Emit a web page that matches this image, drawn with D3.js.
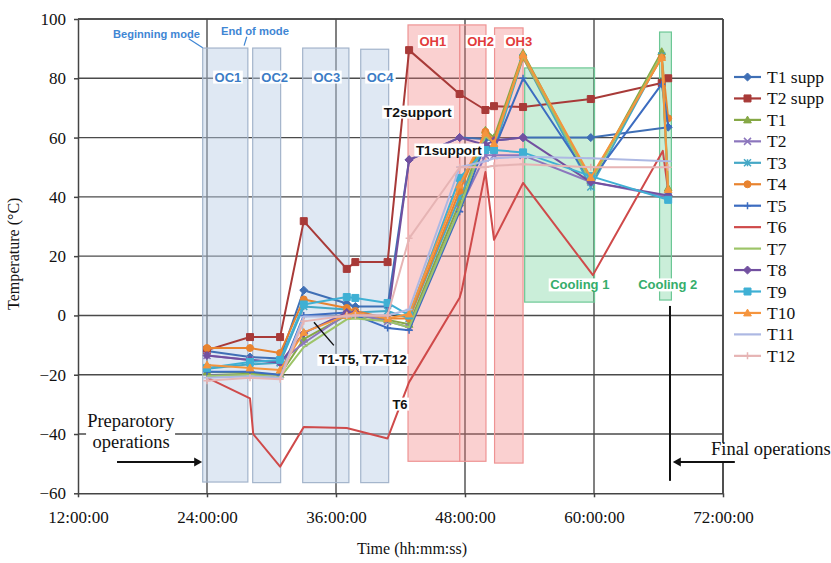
<!DOCTYPE html>
<html><head><meta charset="utf-8">
<script src="https://cdn.jsdelivr.net/npm/d3@7"></script>
<style>body{margin:0;background:#fff}svg{display:block}</style>
</head><body><svg id="c" width="831" height="563"></svg>
<script>
// ---------------- DATA ----------------
const times   = [24, 28, 30.8, 33, 37, 37.8, 40.8, 42.8, 47.5, 49.9, 50.7, 53.4, 59.7, 66.3, 66.9];
const timesT6 = [24, 28, 28.3, 30.8, 33, 37, 40.8, 42.8, 47.5, 47.7, 49.9, 50.7, 53.4, 59.9, 66.4, 66.9];

const t1supp = [-12, -14, -14.5, 8.5, 4, 3, 3, 52.5, 60, 59.5, 59, 60, 60, null, 63.5];
const t2supp = [-11.7, -7.3, -7.3, 31.8, 15.7, 18, 18, 89.5, 74.7, 69.3, 70.6, 70.3, 73, 78.4, 80];
const t1  = [-19, -19.5, -20, -8, 0, 0, -1.5, -3, 38, 62.5, 60, 88.5, 45.5, 89, 43];
const t2  = [-13.5, -15, -15.7, -9.3, 0.5, 0.5, -2, -4, 36, 54, 54, 54, 45, null, 40];
const t3  = [-18, -16.5, -16, 3, 2, 1, 1.5, -1, 40, 57, 56, 87, 43.3, 87.5, 40.5];
const t4  = [-11, -11, -12.7, 5.4, 2.5, 1.5, -1, -1, 42, 62, 59, 87, 46, 87, 66.5];
const t5  = [-19, -19, -20, 0, 1, 0, -4.2, -5, 35, 58, 56, 80, 45.5, 78, 64];
const t6  = [-21, -28, -40, -51, -37.6, -38, -41.5, -22.5, 6, 8.5, 48.4, 25.5, 44.7, 13.6, 55.5, 42];
const t7  = [-20.5, -20, -21, -10.7, -1.3, -1, -2, -4, 36, 60.5, 58, 87.5, 45, 88, 41];
const t8  = [-13.5, -15, -16, -6, 1, 1, -1, 52.5, 60, 57.5, 59, 60, 45, null, 40.5];
const t9  = [-17.7, -15.7, -15, 3.7, 6.2, 5.9, 4.2, 0, 46.4, 55.8, 55.8, 55, 47, null, 39];
const t10 = [-16.7, -17.7, -18.4, -5.7, 0, 1, -1, 0.5, 44, 61.5, 58, 88, 46.5, 87, 42.5];
const t11 = [-21, -20.5, -21, -0.4, -0.4, 0, 0, 2, 50, 52, 53, 53.5, 53, null, 52];
const t12 = [-22, -21, -21.5, -2, 0, 0, 0, 26, 50, 50, 50.5, 51, 50, null, 50];

const seriesNames = ["T1 supp","T2 supp","T1","T2","T3","T4","T5","T6","T7","T8","T9","T10","T11","T12"];
const seriesValues = [t1supp, t2supp, t1, t2, t3, t4, t5, t6, t7, t8, t9, t10, t11, t12];
const seriesTimes  = seriesNames.map(n => n === "T6" ? timesT6 : times);

const yTicks = [-60, -40, -20, 0, 20, 40, 60, 80, 100];
const xTicks = [12, 24, 36, 48, 60, 72];

// shaded phases [label, start h, end h, top °C, bottom °C]
const ocPhases = [["OC1", 23.6, 27.8, 90.2, -56.2], ["OC2", 28.25, 30.85, 90.2, -56.4], ["OC3", 32.9, 37.2, 90.2, -56.4], ["OC4", 38.3, 40.9, 89.8, -56.4]];
const ohPhases = [["OH1", 42.7, 47.5, 98, -49.2], ["OH2", 47.5, 49.95, 98, -49.2], ["OH3", 50.75, 53.4, 97, -49.8]];
const coolPhases = [["Cooling 1", 53.55, 60.05, 83.5, 4.5], ["Cooling 2", 66.1, 67.2, 95.6, 5.2]];

// ---------------- STYLE ----------------
const style = {
  "T1 supp": {c:"#3f6fb5", m:"diamond"},
  "T2 supp": {c:"#a83a38", m:"square"},
  "T1":  {c:"#86a846", m:"triangle"},
  "T2":  {c:"#8c76bd", m:"x"},
  "T3":  {c:"#45a8c6", m:"asterisk"},
  "T4":  {c:"#e8832f", m:"circle"},
  "T5":  {c:"#3c6cc0", m:"plus"},
  "T6":  {c:"#cf4a4a", m:"none"},
  "T7":  {c:"#9dc468", m:"none"},
  "T8":  {c:"#7250a0", m:"diamond"},
  "T9":  {c:"#3fb0d4", m:"square"},
  "T10": {c:"#f5953e", m:"triangle"},
  "T11": {c:"#adb8e3", m:"dash"},
  "T12": {c:"#e6b4b4", m:"plus"}
};

const svg = d3.select("#c");
const M = {l:78, t:19, r:723, b:493.3};
const x = d3.scaleLinear().domain([12,72]).range([M.l, M.r]);
const y = d3.scaleLinear().domain([-60,100]).range([M.b, M.t]);
const serif = "'Liberation Serif','Times New Roman',serif";
const sans = "'Liberation Sans',Arial,sans-serif";

// grid
const grid = svg.append("g");
grid.selectAll("line.h").data(yTicks.filter(d => d > -60)).join("line")
  .attr("x1", M.l).attr("x2", M.r).attr("y1", d => y(d)).attr("y2", d => y(d))
  .attr("stroke", "#4a4a4a").attr("stroke-width", 1.4);
grid.selectAll("line.v").data(xTicks.filter(d => d > 12)).join("line")
  .attr("y1", M.t).attr("y2", M.b).attr("x1", d => x(d)).attr("x2", d => x(d))
  .attr("stroke", "#4a4a4a").attr("stroke-width", 1.4);

// phases
function phase(arr, fill, stroke){
  svg.append("g").selectAll("rect").data(arr).join("rect")
    .attr("x", d => x(d[1])).attr("width", d => x(d[2]) - x(d[1]))
    .attr("y", d => y(d[3])).attr("height", d => y(d[4]) - y(d[3]))
    .attr("fill", fill).attr("stroke", stroke).attr("stroke-width", 1.2);
}
phase(ocPhases, "rgba(184,204,228,0.45)", "#a3b4cb");
phase(ohPhases, "rgba(240,120,120,0.35)", "#ee9393");
phase(coolPhases, "rgba(80,200,130,0.30)", "#6cc795");

// axes
const axL = svg.append("g").attr("transform", `translate(${M.l},0)`);
axL.call(d3.axisLeft(y).tickValues(d3.range(-60, 101, 5)).tickSize(3).tickFormat("").tickSizeOuter(0));
axL.call(d3.axisLeft(y).tickValues(yTicks).tickSize(4).tickPadding(8).tickSizeOuter(0));
axL.selectAll("path,line").attr("stroke", "#444").attr("stroke-width", 1.5);
axL.selectAll("text").attr("font-family", serif).attr("font-size", 17).attr("fill", "#111");

const axB = svg.append("g").attr("transform", `translate(0,${M.b})`);
axB.call(d3.axisBottom(x).tickValues(d3.range(12, 73, 2)).tickSize(4).tickFormat("").tickSizeOuter(0));
axB.call(d3.axisBottom(x).tickValues(xTicks).tickSize(4).tickPadding(14).tickSizeOuter(0).tickFormat(d => d + ":00:00"));
axB.selectAll("path,line").attr("stroke", "#444").attr("stroke-width", 1.5);
axB.selectAll("text").attr("font-family", serif).attr("font-size", 17).attr("fill", "#111");

// top/right frame
svg.append("line").attr("x1", M.l).attr("x2", M.r).attr("y1", M.t).attr("y2", M.t).attr("stroke", "#444").attr("stroke-width", 1.6);
svg.append("line").attr("x1", M.r).attr("x2", M.r).attr("y1", M.t).attr("y2", M.b).attr("stroke", "#444").attr("stroke-width", 1.6);

// markers
function markerPath(type, r){
  switch(type){
    case "diamond": return `M0,${-r*1.15}L${r*1.15},0L0,${r*1.15}L${-r*1.15},0Z`;
    case "square": return `M${-r},${-r}h${2*r}v${2*r}h${-2*r}Z`;
    case "triangle": return `M0,${-r*1.1}L${r*1.1},${r*0.85}L${-r*1.1},${r*0.85}Z`;
    case "circle": return d3.symbol(d3.symbolCircle, Math.PI*r*r)();
    case "plus": return `M${-r},0H${r}M0,${-r}V${r}`;
    case "x": return `M${-r},${-r}L${r},${r}M${-r},${r}L${r},${-r}`;
    case "asterisk": return `M${-r},${-r}L${r},${r}M${-r},${r}L${r},${-r}M0,${-r}V${r}`;
    case "dash": return `M${-r},0H${r}`;
    default: return "";
  }
}
const filled = t => ["diamond","square","triangle","circle"].includes(t);

const line = d3.line().x(d => x(d[0])).y(d => y(d[1]));
const seriesG = svg.append("g");
seriesNames.forEach((name, i) => {
  const st = style[name];
  const pts = seriesTimes[i].map((t, j) => [t, seriesValues[i][j]]).filter(d => d[1] != null);
  const g = seriesG.append("g");
  g.append("path").datum(pts).attr("d", line).attr("fill", "none")
    .attr("stroke", st.c).attr("stroke-width", 2).attr("stroke-linejoin", "round");
  if (st.m !== "none") {
    g.selectAll("path.m").data(pts).join("path").attr("class", "m")
      .attr("transform", d => `translate(${x(d[0])},${y(d[1])})`)
      .attr("d", markerPath(st.m, 3.5))
      .attr("fill", filled(st.m) ? st.c : "none")
      .attr("stroke", st.c).attr("stroke-width", filled(st.m) ? 1 : 1.5);
  }
});

// labels with white background
function label(txt, cx, cy, color, size, opts = {}){
  const g = svg.append("g");
  const t = g.append("text").attr("x", cx).attr("y", cy).attr("text-anchor", opts.anchor || "middle")
    .attr("dominant-baseline", "central").attr("font-family", opts.family || sans)
    .attr("font-weight", opts.weight || "bold").attr("font-size", size).attr("fill", color).text(txt);
  if (opts.len) t.attr("textLength", opts.len).attr("lengthAdjust", "spacingAndGlyphs");
  if (opts.bg !== false) {
    const b = t.node().getBBox();
    g.insert("rect", "text").attr("x", b.x - 1.5).attr("y", b.y + 1).attr("width", b.width + 3).attr("height", b.height - 2).attr("fill", "#fff");
  }
  return g;
}

ocPhases.forEach((d, i) => label(d[0], x([25.95, 30.3, 35.15, 40.1][i]), y(80.4), "#3b7cc6", 13));
ohPhases.forEach((d, i) => label(d[0], x([45.0, 49.45, 53.0][i]), y(92.4), "#e23b3b", 13));
coolPhases.forEach((d, i) => label(d[0], x([58.68, 66.86][i]), y(10.3), "#35ad6b", 13));

label("Beginning mode", x(19.3), y(94.9), "#3f86d4", 10, {len: 87});
label("End of mode", x(28.46), y(96.0), "#3f86d4", 10.5, {len: 68});
svg.append("line").attr("x1", x(22.3)).attr("y1", y(93.3)).attr("x2", x(23.6)).attr("y2", y(90.3)).attr("stroke", "#3f86d4").attr("stroke-width", 1.2);
svg.append("line").attr("x1", x(27.7)).attr("y1", y(94.0)).attr("x2", x(27.45)).attr("y2", y(91.0)).attr("stroke", "#3f86d4").attr("stroke-width", 1.2);

label("T2support", x(43.6), y(68.6), "#111", 13, {len: 68});
label("T1support", x(46.5), y(55.8), "#111", 13, {len: 66});
svg.append("line").attr("x1", x(33.95)).attr("y1", y(-2.3)).attr("x2", x(35.8)).attr("y2", y(-10.1)).attr("stroke", "#111").attr("stroke-width", 1.4);
label("T1-T5, T7-T12", x(38.5), y(-15), "#111", 12.5, {len: 88});
label("T6", x(41.95), y(-29.9), "#111", 13);

// Preparatory / Final operations
const prep = svg.append("g");
prep.append("rect").attr("x", x(12.75)).attr("y", y(-32.6)).attr("width", 89).attr("height", 40).attr("fill", "#fff");
prep.append("text").attr("x", x(12.85)).attr("y", y(-37.5)).attr("font-family", serif).attr("font-size", 18.5).attr("fill", "#111").text("Preparotory");
prep.append("text").attr("x", x(13.36)).attr("y", y(-44.8)).attr("font-family", serif).attr("font-size", 18.5).attr("fill", "#111").text("operations");
svg.append("line").attr("x1", x(15.63)).attr("x2", x(23.0)).attr("y1", y(-49.4)).attr("y2", y(-49.4)).attr("stroke", "#111").attr("stroke-width", 2);
svg.append("path").attr("d", `M${x(23.55)},${y(-49.4)}l-8,-4.5v9z`).attr("fill", "#111");

svg.append("line").attr("x1", x(67.07)).attr("x2", x(67.07)).attr("y1", y(3.2)).attr("y2", y(-55.8)).attr("stroke", "#111").attr("stroke-width", 2);
const fin = svg.append("g");
fin.append("rect").attr("x", 709).attr("y", y(-43)).attr("width", 122).attr("height", 20).attr("fill", "#fff");
fin.append("text").attr("x", x(72) - 12).attr("y", y(-47.2)).attr("font-family", serif).attr("font-size", 18.5).attr("fill", "#111").text("Final operations");
svg.append("line").attr("x1", x(67.9)).attr("x2", x(73.1)).attr("y1", y(-49.4)).attr("y2", y(-49.4)).attr("stroke", "#111").attr("stroke-width", 2);
svg.append("path").attr("d", `M${x(67.33)},${y(-49.4)}l8,-4.5v9z`).attr("fill", "#111");

// axis titles
svg.append("text").attr("transform", `translate(19,${y(20.8)}) rotate(-90)`).attr("text-anchor", "middle")
  .attr("font-family", serif).attr("font-size", 16).attr("fill", "#111").text("Temperature (°C)");
svg.append("text").attr("x", 412).attr("y", 554).attr("text-anchor", "middle")
  .attr("font-family", serif).attr("font-size", 16).attr("fill", "#111").text("Time (hh:mm:ss)");

// legend
const leg = svg.append("g");
seriesNames.forEach((name, i) => {
  const st = style[name];
  const ly = 77 + i * 21.45;
  leg.append("line").attr("x1", 734).attr("x2", 761).attr("y1", ly).attr("y2", ly).attr("stroke", st.c).attr("stroke-width", 2.2);
  if (st.m !== "none" && st.m !== "dash") {
    leg.append("path").attr("transform", `translate(747.5,${ly})`).attr("d", markerPath(st.m, 3.5))
      .attr("fill", filled(st.m) ? st.c : "none").attr("stroke", st.c).attr("stroke-width", filled(st.m) ? 1 : 1.5);
  }
  leg.append("text").attr("x", 767).attr("y", ly).attr("dominant-baseline", "central")
    .attr("font-family", serif).attr("font-size", 17.5).attr("fill", "#111").text(name);
});
</script></body></html>
